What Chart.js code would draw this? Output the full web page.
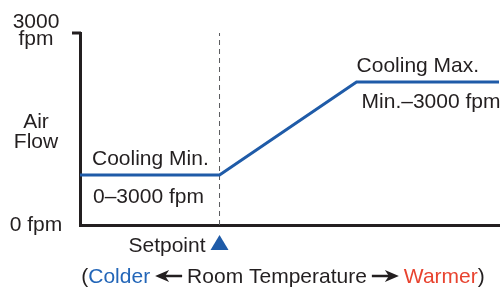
<!DOCTYPE html>
<html>
<head>
<meta charset="utf-8">
<script src="https://cdn.jsdelivr.net/npm/chart.js@4"></script>
<style>
  html, body { margin: 0; padding: 0; background: #fff; }
  canvas { display: block; }
</style>
</head>
<body>
<canvas id="airflowChart" width="502" height="290"></canvas>
<script>
/* ==========================================================
   DATA
========================================================== */
const roomTemp = [0, 33.3, 66, 100];          // relative position on temperature axis
const airFlow = [780, 780, 2235, 2235];       // fpm
const setpointX = 33.3;
const flowRange = [0, 3000];
const yTickLabels = [["3000", "fpm"], ["0 fpm"]];
const yTitle = ["Air", "Flow"];
const notes = {
    minTop: "Cooling Min.",
    minBottom: "0\u20133000 fpm",
    maxTop: "Cooling Max.",
    maxBottom: "Min.\u20133000 fpm"
};

const BLUE = "#1f5ba8";
const INK = "#231f20";
const FONT = "21px 'Liberation Sans', Arial, Helvetica, sans-serif";

/* ==========================================================
   ANNOTATIONS PLUGIN
========================================================== */
const labelsPlugin = {
    id: "labels",
    afterDraw(chart) {
        const c = chart.ctx;
        const xs = chart.scales.x;
        const ys = chart.scales.y;
        const left = chart.chartArea.left;
        const yTop = ys.getPixelForValue(flowRange[1]);
        const yBot = ys.getPixelForValue(flowRange[0]);
        const yLow = ys.getPixelForValue(airFlow[0]);
        const yHigh = ys.getPixelForValue(airFlow[3]);
        const xSet = xs.getPixelForValue(setpointX);
        const xRamp = xs.getPixelForValue(roomTemp[2]);

        c.save();
        // top tick of y axis
        c.strokeStyle = INK;
        c.lineWidth = 3;
        c.beginPath();
        c.moveTo(left - 8, yTop);
        c.lineTo(left + 1, yTop);
        c.stroke();

        c.font = FONT;
        c.fillStyle = INK;
        c.textBaseline = "alphabetic";

        // y labels
        c.textAlign = "center";
        c.fillText(yTickLabels[0][0], 36, yTop - 5);
        c.fillText(yTickLabels[0][1], 36, yTop + 12);
        c.fillText(yTitle[0], 36, 128);
        c.fillText(yTitle[1], 36, 148);
        c.fillText(yTickLabels[1][0], 36, yBot + 6);

        // line notes
        c.textAlign = "left";
        c.fillText(notes.minTop, left + 12, yLow - 10);
        c.fillText(notes.minBottom, left + 13, yLow + 28);
        c.fillText(notes.maxTop, xRamp, yHigh - 10);
        c.fillText(notes.maxBottom, xRamp + 5, yHigh + 26);

        // setpoint marker
        c.textAlign = "right";
        c.fillText("Setpoint", xSet - 14, 252);
        c.fillStyle = BLUE;
        c.beginPath();
        c.moveTo(xSet, 235);
        c.lineTo(xSet + 9, 250);
        c.lineTo(xSet - 9, 250);
        c.closePath();
        c.fill();

        // bottom caption
        const parts = [
            { t: "(", col: INK },
            { t: "Colder", col: "#2366b8" },
            { arrow: -1 },
            { t: "Room Temperature", col: INK },
            { arrow: 1 },
            { t: "Warmer", col: "#e8432f" },
            { t: ")", col: INK }
        ];
        const gap = 5, arrowW = 27;
        let total = 0;
        parts.forEach(p => {
            p.w = p.arrow ? arrowW : c.measureText(p.t).width;
            total += p.w;
            if (p.arrow) total += gap * 2;
        });
        let x = 283 - total / 2;
        const base = 283;
        c.textAlign = "left";
        parts.forEach(p => {
            if (p.arrow) {
                x += gap;
                const ay = base - 7;
                const x0 = x, x1 = x + arrowW;
                const tip = p.arrow < 0 ? x0 : x1;
                const tail = p.arrow < 0 ? x1 : x0;
                const dir = p.arrow < 0 ? 1 : -1;
                c.strokeStyle = INK;
                c.fillStyle = INK;
                c.lineWidth = 2.5;
                c.beginPath();
                c.moveTo(tail, ay);
                c.lineTo(tip + dir * 8, ay);
                c.stroke();
                c.beginPath();
                c.moveTo(tip, ay);
                c.lineTo(tip + dir * 14, ay - 6);
                c.lineTo(tip + dir * 10, ay);
                c.lineTo(tip + dir * 14, ay + 6);
                c.closePath();
                c.fill();
                x += arrowW + gap;
            } else {
                c.fillStyle = p.col;
                c.fillText(p.t, x, base);
                x += p.w;
            }
        });
        c.restore();
    }
};

/* ==========================================================
   CHART
========================================================== */
const ctx = document.getElementById("airflowChart").getContext("2d");

new Chart(ctx, {
    type: "line",
    data: {
        datasets: [
            {
                label: "Air Flow",
                data: roomTemp.map((t, i) => ({ x: t, y: airFlow[i] })),
                borderColor: BLUE,
                borderWidth: 3,
                pointRadius: 0,
                tension: 0,
                clip: false,
                order: 1
            },
            {
                label: "Setpoint",
                data: flowRange.map(v => ({ x: setpointX, y: v })),
                borderColor: "#5a5b5e",
                borderWidth: 1,
                borderDash: [5, 4],
                pointRadius: 0,
                order: 2
            }
        ]
    },
    options: {
        responsive: false,
        animation: false,
        layout: { padding: { left: 80, top: 33, right: 3, bottom: 65 } },
        plugins: {
            legend: { display: false },
            tooltip: { enabled: false }
        },
        scales: {
            x: {
                type: "linear",
                min: 0,
                max: 100,
                ticks: { display: false },
                grid: { display: false },
                border: { color: INK, width: 3 },
                afterFit(s) { s.height = 0; }
            },
            y: {
                min: flowRange[0],
                max: flowRange[1],
                ticks: { display: false },
                grid: { display: false },
                border: { color: INK, width: 3 },
                afterFit(s) { s.width = 0; }
            }
        }
    },
    plugins: [labelsPlugin]
});
</script>
</body>
</html>
